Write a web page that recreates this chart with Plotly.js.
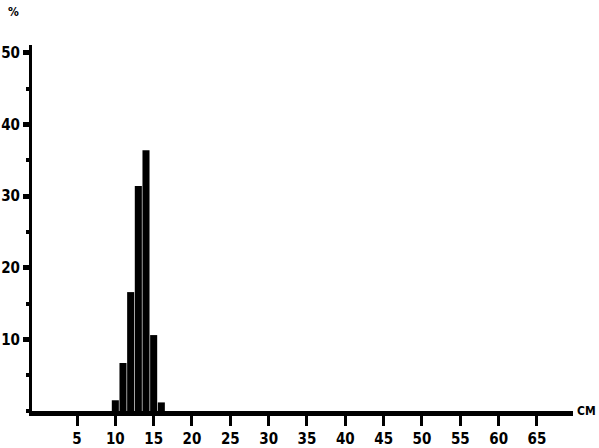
<!DOCTYPE html>
<html>
<head>
<meta charset="utf-8">
<script src="https://cdn.plot.ly/plotly-3.0.1.min.js"></script>
<style>html,body{margin:0;padding:0;background:#fff;}#chart{width:599px;height:448px;}</style>
</head>
<body>
<div id="chart"></div>
<script>
// Data
const lengthsCm = [10, 11, 12, 13, 14, 15, 16];
const percents = [1.5, 6.7, 16.6, 31.4, 36.4, 10.6, 1.2];
const xTickVals = [5, 10, 15, 20, 25, 30, 35, 40, 45, 50, 55, 60, 65];
const yTickVals = [10, 20, 30, 40, 50];
const xUnit = "CM";
const yUnit = "%";

const font = {family: "DejaVu Sans Condensed, DejaVu Sans, sans-serif", size: 15, color: "#000", weight: "bold"};
const unitFont = {family: "DejaVu Sans Condensed, DejaVu Sans, sans-serif", size: 12, color: "#000", weight: "bold"};

const trace = {
  type: "bar",
  x: lengthsCm,
  y: percents,
  width: 0.92,
  marker: {color: "#000", line: {width: 0}},
  hoverinfo: "x+y"
};

const layout = {
  width: 599, height: 448,
  margin: {l: 32, r: 26, t: 45, b: 37, pad: 0},
  paper_bgcolor: "#fff", plot_bgcolor: "#fff",
  showlegend: false,
  font: font,
  xaxis: {
    range: [-0.87, 69.7],
    tickvals: xTickVals,
    ticktext: xTickVals.map(String),
    ticks: "outside", ticklen: 10, tickwidth: 3, tickcolor: "#000",
    showline: true, linewidth: 5, linecolor: "#000",
    showgrid: false, zeroline: false,
    tickfont: font
  },
  yaxis: {
    range: [0, 51.1],
    tickvals: yTickVals,
    ticktext: yTickVals.map(String),
    ticks: "outside", ticklen: 6, tickwidth: 5, tickcolor: "#000",
    minor: {dtick: 5, tick0: 0, ticks: "outside", ticklen: 3, tickwidth: 4, tickcolor: "#000", showgrid: false},
    showline: true, linewidth: 3, linecolor: "#000",
    showgrid: false, zeroline: false,
    tickfont: font
  },
  annotations: [
    {text: yUnit, xref: "paper", yref: "paper", x: -0.035, y: 1.09, xanchor: "center", yanchor: "middle", showarrow: false, font: unitFont},
    {text: xUnit, xref: "paper", yref: "paper", x: 1.046, y: 0.0, xanchor: "right", yanchor: "middle", showarrow: false, font: unitFont}
  ]
};

Plotly.newPlot("chart", [trace], layout, {displayModeBar: false, staticPlot: true});
</script>
</body>
</html>
